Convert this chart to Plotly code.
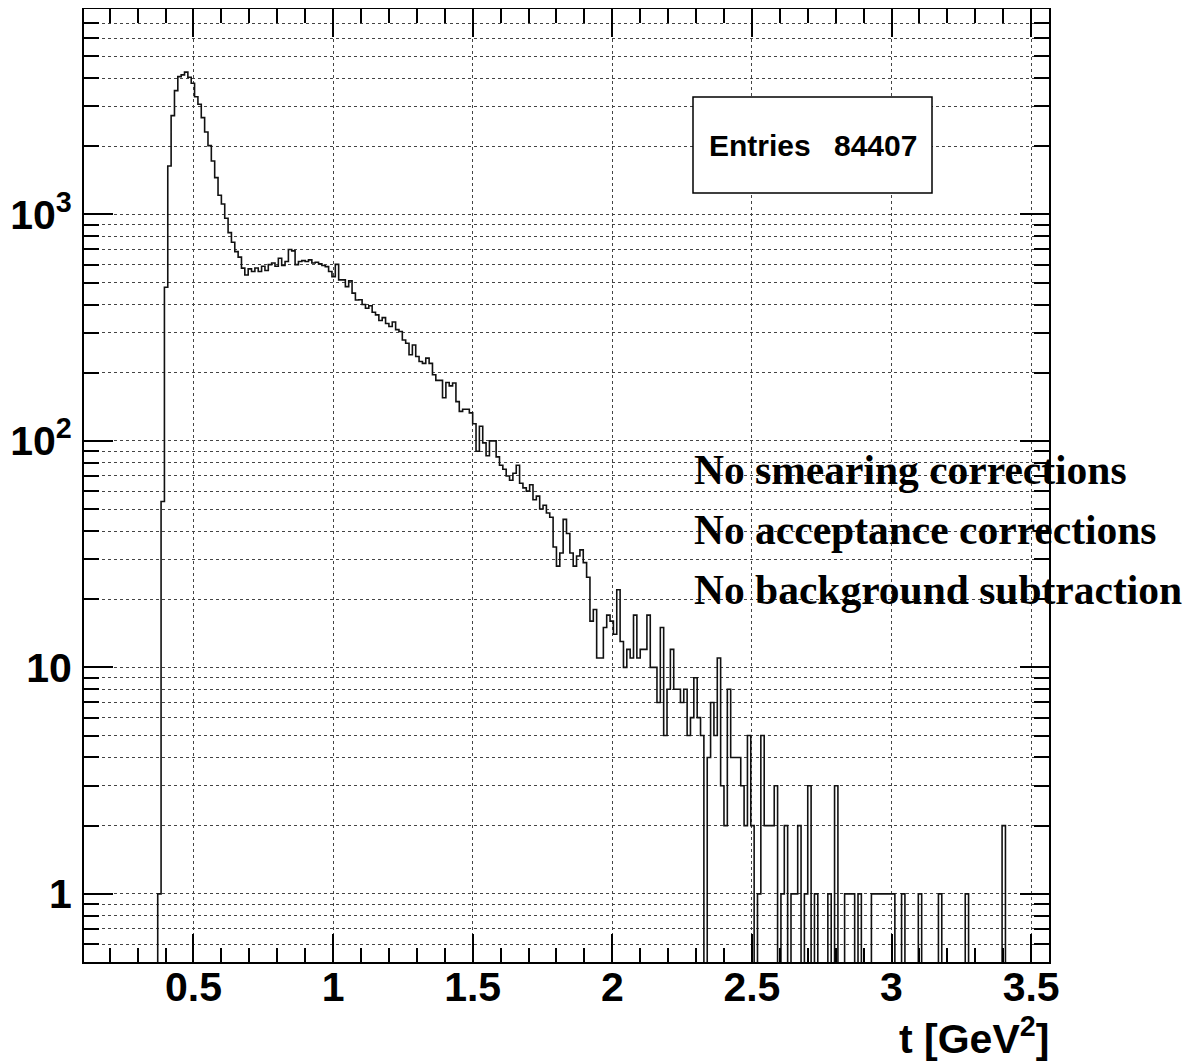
import math
import plotly.graph_objects as go

# ---------------- data ----------------
BIN_START = 0.372      # lower edge of first filled bin, GeV^2
BIN_WIDTH = 0.012      # GeV^2
AXIS_RANGE_X = [0.108, 3.564]
ENTRIES = 84407

counts = [
    # t = 0.372 ...
    1, 54, 477, 1637, 2730, 3520, 4060, 4130, 4250, 4035, 3795, 3310, 3066, 2675,
    2313, 2012, 1722, 1453, 1215, 1112, 961, 831, 754, 685, 648, 579, 540,
    575, 560, 580, 560, 590, 565, 600, 610, 590, 640, 595, 620, 700, 690, 600,
    620, 625, 620, 630, 610, 615, 605, 595,
    588, 560, 531, 602, 514, 514, 480, 509, 449, 419,
    420, 400, 385, 395, 370, 360, 340, 350, 330, 320, 335, 310, 304,
    279, 270, 240, 265, 236, 224, 220, 232, 220, 196, 185, 185, 155, 181, 175,
    180, 149, 135, 138, 138, 133, 119,
    90, 116, 98, 86, 100, 100, 85, 78, 75, 70, 67, 72, 78, 65, 62, 60, 64, 55,
    57, 50, 52, 48,
    46, 34, 28, 32, 45, 39, 32, 28, 31, 33, 29, 25, 16, 18, 11, 11, 15, 17, 16,
    14, 22, 13, 10, 12, 11, 17, 11, 12, 12, 17,
    10, 10, 7, 15, 5, 8, 12, 8, 8, 7, 8, 5, 6, 9, 6, 5,
    # t ~ 2.33 ...
    0, 4, 7, 5, 11, 3, 2, 8, 4, 4, 4, 3, 2, 5, 2, 0, 1, 5, 2, 2, 2, 3, 0, 1, 2,
    0, 1, 1, 2, 0, 1, 3, 0, 1, 0, 0, 0, 1, 0, 3, 0, 0, 1, 1, 1, 0, 1, 0, 0, 0,
    1, 1, 1, 1, 1, 1, 1, 0, 0, 1, 0, 0, 0, 0, 1, 0, 0, 0, 0, 0, 1, 0, 0, 0, 0,
    0, 0, 0, 1, 0, 0, 0, 0, 0, 0, 0, 0, 0, 0, 2,
]

x_tick_vals = [0.5, 1.0, 1.5, 2.0, 2.5, 3.0, 3.5]
x_tick_text = ["0.5", "1", "1.5", "2", "2.5", "3", "3.5"]
y_tick_vals = [1, 10, 100, 1000]
y_tick_text = ["1", "10", "10<sup>2</sup>", "10<sup>3</sup>"]
notes = ["No smearing corrections", "No acceptance corrections", "No background subtraction"]

# ---------------- build step outline ----------------
FLOOR = 0.05  # stand-in for empty bins (below visible log range)
xs, ys = [BIN_START], [FLOOR]
for i, c in enumerate(counts):
    xs.append(BIN_START + i * BIN_WIDTH)
    ys.append(c if c > 0 else FLOOR)
end_edge = BIN_START + len(counts) * BIN_WIDTH
xs += [end_edge, AXIS_RANGE_X[1] + 0.05]
ys += [FLOOR, FLOOR]

fig = go.Figure()
fig.add_trace(go.Scatter(x=xs, y=ys, mode="lines",
                         line=dict(shape="hv", color="#111111", width=1.6),
                         hoverinfo="skip", showlegend=False))

# page has an 8px body margin: figure coords = page coords - 8
OFF = 8
W, H = 1196 - OFF, 1063 - OFF
L, R, T, B = 84, 1049, 9, 962   # plot frame in page pixels


def px(xp):
    return (xp - L) / (R - L)


def py(yp):
    return (B - yp) / (B - T)


minor_x = [round(0.2 + 0.1 * i, 1) for i in range(34)]
minor_x = [v for v in minor_x if abs(v * 2 - round(v * 2)) > 1e-6 and v < 3.56]
minor_y = []
for dec in [0.1, 1, 10, 100, 1000]:
    for m in range(2, 10):
        v = m * dec
        if 0.5 <= v <= 8000 and v not in y_tick_vals:
            minor_y.append(v)

font_axis = dict(family="Liberation Sans, Arial, sans-serif", size=41, color="black", weight="bold")

fig.update_layout(
    width=W, height=H,
    margin=dict(l=L - OFF, r=W - (R - OFF), t=T - OFF, b=H - (B - OFF), autoexpand=False),
    paper_bgcolor="white", plot_bgcolor="white",
    showlegend=False,
    xaxis=dict(
        range=AXIS_RANGE_X, tickmode="array", tickvals=x_tick_vals, ticktext=x_tick_text,
        ticks="inside", ticklen=28, tickwidth=1.5, tickcolor="black",
        showline=True, linecolor="black", linewidth=2, mirror="ticks",
        showgrid=True, gridcolor="#444444", griddash="dot", gridwidth=1,
        zeroline=False, tickfont=font_axis, ticklabelstandoff=-12, automargin=False,
        minor=dict(tickmode="array", tickvals=minor_x, ticks="inside", ticklen=14,
                   tickwidth=1.5, tickcolor="black", showgrid=False),
    ),
    yaxis=dict(
        type="log", range=[math.log10(0.5), 3.907],
        tickmode="array", tickvals=y_tick_vals, ticktext=y_tick_text,
        ticks="inside", ticklen=29, tickwidth=1.5, tickcolor="black",
        showline=True, linecolor="black", linewidth=2, mirror="ticks",
        showgrid=True, gridcolor="#444444", griddash="dot", gridwidth=1,
        zeroline=False, tickfont=font_axis, ticklabelstandoff=2, automargin=False,
        minor=dict(tickmode="array", tickvals=minor_y, ticks="inside", ticklen=15,
                   tickwidth=1.5, tickcolor="black", showgrid=True,
                   gridcolor="#444444", griddash="dot", gridwidth=1),
    ),
)

# stats box
fig.add_shape(type="rect", xref="paper", yref="paper",
              x0=px(693), x1=px(932), y0=py(193), y1=py(97),
              line=dict(color="black", width=1.5), fillcolor="white", layer="above")
fig.add_annotation(xref="paper", yref="paper", x=px(707), y=py(146),
                   xanchor="left", yanchor="middle", showarrow=False,
                   text="Entries", font=dict(family="Liberation Sans, Arial", size=30,
                                             color="black", weight="bold"))
fig.add_annotation(xref="paper", yref="paper", x=px(919), y=py(146),
                   xanchor="right", yanchor="middle", showarrow=False,
                   text=str(ENTRIES), font=dict(family="Liberation Sans, Arial", size=30,
                                                color="black", weight="bold"))

# notes
for i, txt in enumerate(notes):
    fig.add_annotation(xref="paper", yref="paper", x=px(692), y=py(470 + 60 * i),
                       xanchor="left", yanchor="middle", showarrow=False, text=txt,
                       font=dict(family="Liberation Serif, Times New Roman, serif", size=41.5,
                                 color="black", weight="bold"))

# x axis title
fig.add_annotation(xref="paper", yref="paper", x=px(1051), y=py(1036),
                   xanchor="right", yanchor="middle", showarrow=False,
                   text="t [GeV<sup>2</sup>]", font=font_axis)

fig.write_html("out.html")
